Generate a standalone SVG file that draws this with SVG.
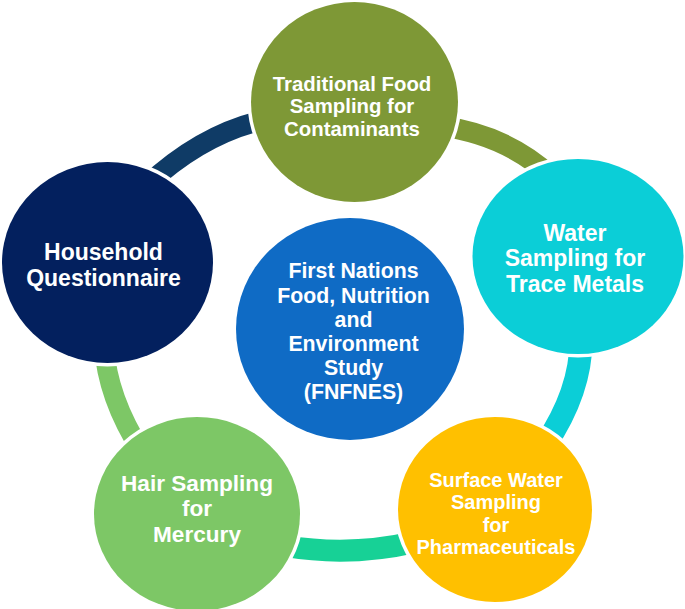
<svg xmlns="http://www.w3.org/2000/svg" width="685" height="609" viewBox="0 0 685 609">
<style>
.arc{fill:none}
.node ellipse{stroke:#ffffff;stroke-width:7;paint-order:stroke}
.lbl{font-family:"Liberation Sans",Arial,sans-serif;font-weight:bold;fill:#ffffff;text-anchor:middle}
</style>
<rect width="685" height="609" fill="#ffffff"/>
<g id="connectors">
<path class="arc" d="M146,186 Q203,132.5 268,119" stroke="#0F3B66" stroke-width="20"/>
<path class="arc" d="M438,126 Q505,133.5 552,177" stroke="#7E9836" stroke-width="20.5"/>
<path class="arc" d="M581,340 Q581,391.5 545,445" stroke="#0BCED7" stroke-width="23"/>
<path class="arc" d="M285,546 Q350,557 415,542" stroke="#17D196" stroke-width="22"/>
<path class="arc" d="M104,345 Q107,397.5 142,452" stroke="#7DC766" stroke-width="20"/>
</g>
<g id="node-traditional-food" class="node">
<ellipse cx="354.5" cy="102" rx="103.5" ry="100" fill="#7E9836"/>
<text class="lbl" font-size="20.4" x="352"><tspan x="352" y="90.7">Traditional Food</tspan><tspan x="352" y="113.3">Sampling for</tspan><tspan x="352" y="136">Contaminants</tspan></text>
</g>
<g id="node-household" class="node">
<ellipse cx="107.5" cy="262.5" rx="105.5" ry="100.5" fill="#03205E"/>
<text class="lbl" font-size="23" x="103.5"><tspan x="103.5" y="259.5">Household</tspan><tspan x="103.5" y="285.5">Questionnaire</tspan></text>
</g>
<g id="node-water" class="node">
<ellipse cx="578" cy="256.5" rx="105.5" ry="97.5" fill="#0BCED7"/>
<text class="lbl" font-size="23" x="575"><tspan x="575" y="240.7">Water</tspan><tspan x="575" y="266.3">Sampling for</tspan><tspan x="575" y="291.9">Trace Metals</tspan></text>
</g>
<g id="node-hair" class="node">
<ellipse cx="197" cy="514" rx="103" ry="97" fill="#7DC766"/>
<text class="lbl" font-size="22.6" x="197"><tspan x="197" y="490.7">Hair Sampling</tspan><tspan x="197" y="516.3">for</tspan><tspan x="197" y="542">Mercury</tspan></text>
</g>
<g id="node-surface-water" class="node">
<ellipse cx="495" cy="509.5" rx="97" ry="92.5" fill="#FFC000"/>
<text class="lbl" font-size="20" x="496"><tspan x="496" y="486.5">Surface Water</tspan><tspan x="496" y="509">Sampling</tspan><tspan x="496" y="531.5">for</tspan><tspan x="496" y="554">Pharmaceuticals</tspan></text>
</g>
<g id="node-fnfnes" class="node">
<ellipse cx="350" cy="329" rx="114" ry="111" fill="#0F6BC5"/>
<text class="lbl" font-size="21.3" x="353.5"><tspan x="353.5" y="278.3">First Nations</tspan><tspan x="353.5" y="302.5">Food, Nutrition</tspan><tspan x="353.5" y="326.7">and</tspan><tspan x="353.5" y="350.9">Environment</tspan><tspan x="353.5" y="375.1">Study</tspan><tspan x="353.5" y="399.3">(FNFNES)</tspan></text>
</g>
</svg>
